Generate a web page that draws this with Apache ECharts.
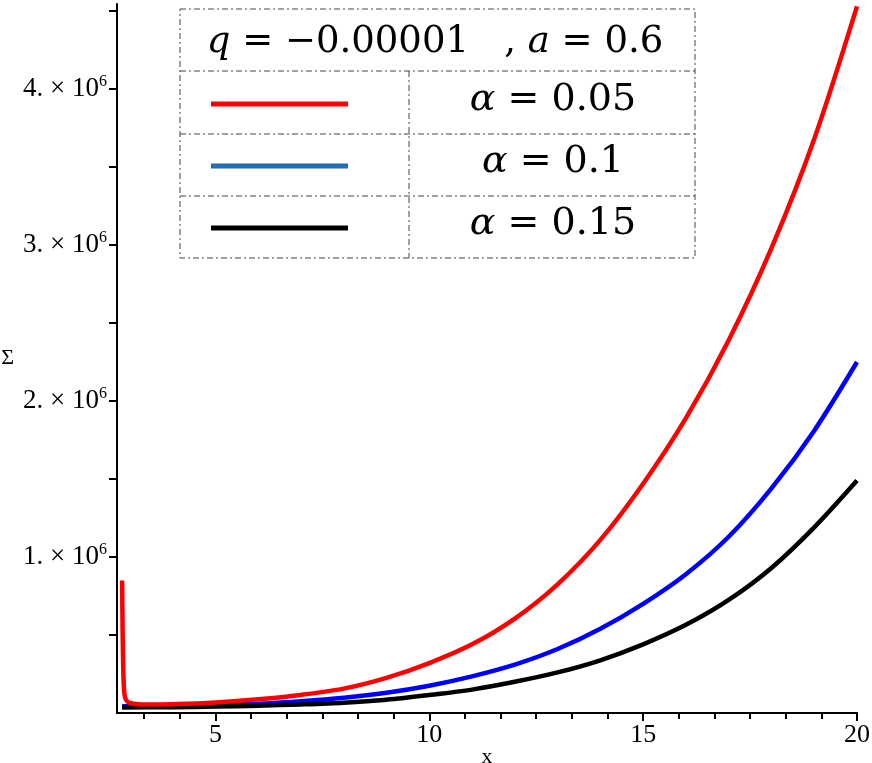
<!DOCTYPE html>
<html>
<head>
<meta charset="utf-8">
<script src="https://cdn.jsdelivr.net/npm/echarts@6/dist/echarts.min.js"></script>
<style>
  html, body { margin: 0; padding: 0; background: #fff; }
  #chart { width: 872px; height: 763px; }
</style>
</head>
<body>
<div id="chart"></div>
<script>
// Σ values are in units of 10^6
const xRed = [2.82, 2.83, 2.845, 2.86, 2.88, 2.92, 3.0, 3.2, 3.6, 4, 5, 6, 7, 8, 9, 10, 11, 12, 13, 14, 15, 16, 17, 18, 19, 20]
const redVals = [0.85, 0.55, 0.30, 0.17, 0.11, 0.08, 0.064, 0.056, 0.054, 0.056, 0.068, 0.088, 0.116, 0.156, 0.225, 0.32, 0.44, 0.605, 0.825, 1.11, 1.47, 1.89, 2.39, 2.98, 3.68, 4.53]

const xCurve = [2.82, 4, 5, 6, 7, 8, 9, 10, 11, 12, 13, 14, 15, 16, 17, 18, 19, 20]
const blueVals = [0.043, 0.044, 0.049, 0.060, 0.076, 0.098, 0.13, 0.175, 0.235, 0.31, 0.41, 0.54, 0.70, 0.89, 1.13, 1.44, 1.81, 2.25]
const blackVals = [0.036, 0.037, 0.041, 0.047, 0.055, 0.066, 0.085, 0.115, 0.15, 0.20, 0.26, 0.338, 0.44, 0.565, 0.725, 0.93, 1.19, 1.49]

const xTicks = [5, 10, 15, 20]
const xMinorTicks = [3.33, 4.17, 5.83, 6.67, 7.5, 8.33, 9.17, 10.83, 11.67, 12.5, 13.33, 14.17, 15.83, 16.67, 17.5, 18.33, 19.17]
const yTicks = [1, 2, 3, 4]
const yAllTicks = [0.5, 1, 1.5, 2, 2.5, 3, 3.5, 4, 4.5]

const legendNames = ['0.05', '0.1', '0.15']
const legendColors = ['#ff0000', '#1f6fb4', '#000000']

const pairs = (xs, ys) => xs.map((x, i) => [x, ys[i]])

const chart = echarts.init(document.getElementById('chart'))

const serif = 'Liberation Serif'
const mathFont = 'DejaVu Serif'
const dash = [6, 3, 2, 3]
const italic = { fontFamily: mathFont, fontStyle: 'italic' }

// legend table, drawn as in the original figure
const legendEls = [
  { type: 'rect', shape: { x: 180, y: 9, width: 515, height: 249 },
    style: { fill: '#fff', stroke: '#444', lineWidth: 1, lineDash: dash } },
  { type: 'line', shape: { x1: 180, y1: 71, x2: 695, y2: 71 }, style: { stroke: '#444', lineDash: dash } },
  { type: 'line', shape: { x1: 180, y1: 134, x2: 695, y2: 134 }, style: { stroke: '#444', lineDash: dash } },
  { type: 'line', shape: { x1: 180, y1: 196, x2: 695, y2: 196 }, style: { stroke: '#444', lineDash: dash } },
  { type: 'line', shape: { x1: 409, y1: 71, x2: 409, y2: 258 }, style: { stroke: '#444', lineDash: dash } },
  { type: 'text', x: 435, y: 42,
    style: { text: '{i|q} = −0.00001   , {i|a} = 0.6', font: '37px "' + mathFont + '"', fill: '#000',
      align: 'center', verticalAlign: 'middle',
      rich: { i: Object.assign({ fontSize: 37 }, italic) } } }
]
const rowY = [102, 164, 226]
legendNames.forEach((name, i) => {
  legendEls.push({ type: 'line', shape: { x1: 211, y1: rowY[i] + 2, x2: 348, y2: rowY[i] + 2 },
    style: { stroke: legendColors[i], lineWidth: 5 } })
  legendEls.push({ type: 'text', x: 553, y: rowY[i] - 2,
    style: { text: '{i|α} = ' + name, font: '38px "' + mathFont + '"', fill: '#000', align: 'center', verticalAlign: 'middle',
      rich: { i: Object.assign({ fontSize: 38 }, italic) } } })
})

chart.setOption({
  animation: false,
  backgroundColor: '#fff',
  grid: { left: 117, right: 15, top: 4, bottom: 50, outerBoundsMode: 'none' },
  xAxis: [{
    type: 'value', min: 2.7, max: 20,
    name: 'x', nameLocation: 'middle', nameGap: 33, nameMoveOverlap: false,
    nameTextStyle: { fontFamily: serif, fontSize: 22, color: '#000' },
    axisLine: { onZero: false, lineStyle: { color: '#000', width: 2 } },
    axisTick: { customValues: xTicks, length: 8, lineStyle: { color: '#000', width: 2 } },
    axisLabel: { customValues: xTicks, fontFamily: serif, fontSize: 26, color: '#000', margin: 9 },
    splitLine: { show: false }
  }, {
    type: 'value', min: 2.7, max: 20, position: 'bottom',
    axisLine: { show: false },
    axisTick: { customValues: xMinorTicks, length: 6, lineStyle: { color: '#000', width: 2 } },
    axisLabel: { show: false },
    splitLine: { show: false }
  }],
  yAxis: {
    type: 'value', min: 0, max: 4.545,
    name: 'Σ', nameLocation: 'middle', nameGap: 103, nameRotate: 0, nameMoveOverlap: false,
    nameTextStyle: { fontFamily: serif, fontSize: 22, color: '#000' },
    axisLine: { onZero: false, lineStyle: { color: '#000', width: 2 } },
    axisTick: { customValues: yAllTicks, length: 8, lineStyle: { color: '#000', width: 2 } },
    axisLabel: {
      customValues: yTicks, margin: 10,
      formatter: v => '{a|' + v + '. × 10}{s|6}',
      rich: {
        a: { fontFamily: serif, fontSize: 27, lineHeight: 30, color: '#000' },
        s: { fontFamily: serif, fontSize: 16, lineHeight: 16, verticalAlign: 'top', color: '#000' }
      }
    },
    splitLine: { show: false }
  },
  series: [
    { type: 'line', data: pairs(xCurve, blueVals), showSymbol: false, smooth: 0.3,
      lineStyle: { color: '#0000ff', width: 4.5 }, z: 2 },
    { type: 'line', data: pairs(xCurve, blackVals), showSymbol: false, smooth: 0.3,
      lineStyle: { color: '#000000', width: 4.5 }, z: 3 },
    { type: 'line', data: pairs(xRed, redVals), showSymbol: false, smooth: 0.3,
      lineStyle: { color: '#ff0000', width: 4.5 }, z: 4 }
  ],
  graphic: legendEls
})
</script>
</body>
</html>
